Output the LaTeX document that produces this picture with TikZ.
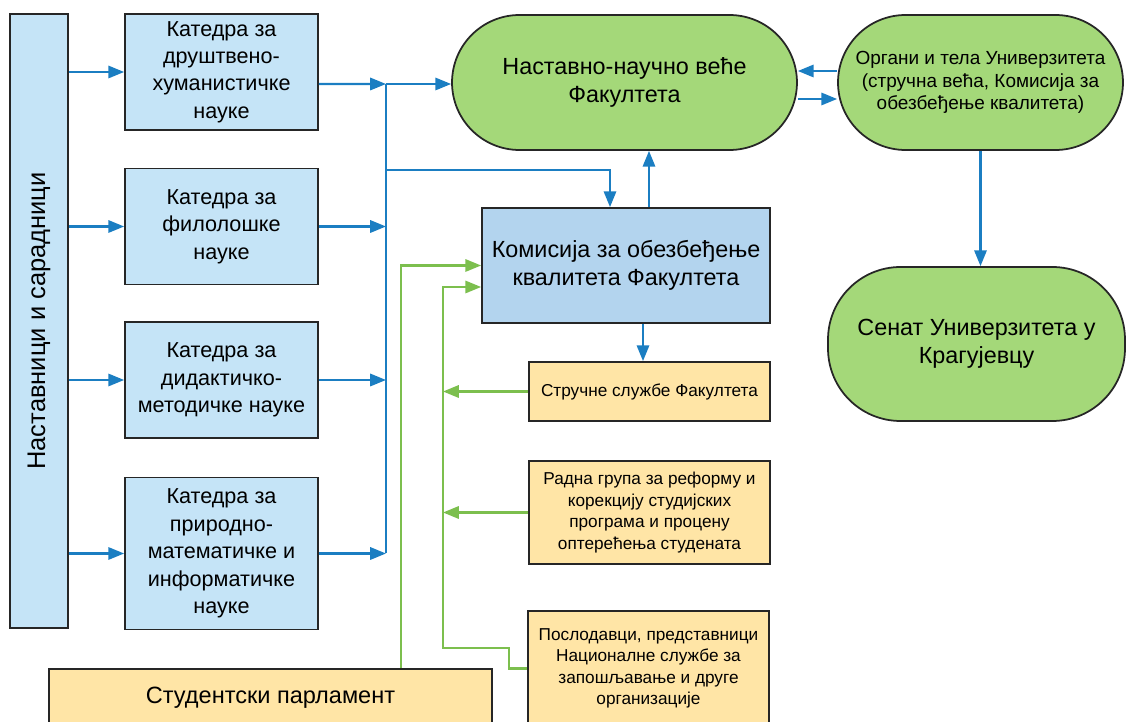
\documentclass[tikz,border=0pt]{standalone}
\usepackage{fontspec}
\setmainfont{Liberation Sans}
\usepackage{xcolor}
\usetikzlibrary{arrows.meta,positioning}

\definecolor{katblue}{HTML}{C5E4F7}
\definecolor{komblue}{HTML}{B3D4EE}
\definecolor{vecegreen}{HTML}{A4D879}
\definecolor{sluzbayellow}{HTML}{FFE5A6}
\definecolor{linkblue}{HTML}{1B7EC2}
\definecolor{linkgreen}{HTML}{7CBF4E}

\begin{document}
\begin{tikzpicture}[
        x=0.02cm, y=-0.02cm,
        box/.style = {draw=black!85, line width=1pt, align=center, inner sep=2pt},
        katbox/.style = {box, fill=katblue, minimum width=3.86cm, minimum height=2.32cm,
            font=\fontsize{12.3}{15.6}\selectfont},
        pill/.style = {box, fill=vecegreen, rounded corners=1.35cm},
        yelbox/.style = {box, fill=sluzbayellow, minimum width=4.82cm,
            font=\fontsize{9.8}{12.2}\selectfont},
        bline/.style = {draw=linkblue, line width=1.3pt},
        barrow/.style = {bline, -{Triangle[length=9pt,width=7pt]}},
        garrow/.style = {draw=linkgreen, line width=1.3pt, -{Triangle[length=9pt,width=7pt]}}]
        \useasboundingbox (0,0) rectangle (1127,722);
        % NODES
        % teachers bar
        \node[box, fill=katblue, minimum width=1.16cm, minimum height=12.28cm,
            font=\fontsize{14.5}{17}\selectfont] (bar) at (39,321) {\rotatebox{90}{Наставници и сарадници}};
        % departments
        \node[katbox] (kdh) at (221.5,72) {Катедра за\\друштвено-\\хуманистичке\\науке};
        \node[katbox] (kfil) at (221.5,226.5) {Катедра за\\филолошке\\науке};
        \node[katbox] (kdid) at (221.5,380) {Катедра за\\дидактичко-\\методичке науке};
        \node[katbox, minimum height=3.04cm] (kpmi) at (221.5,553.5) {Катедра за\\природно-\\математичке и\\информатичке\\науке};
        % council
        \node[pill, minimum width=6.9cm, minimum height=2.7cm,
            font=\fontsize{13.3}{16}\selectfont] (nnv) at (624.5,82.5) {Наставно-научно веће\\Факултета};
        % university bodies
        \node[pill, minimum width=5.7cm, minimum height=2.7cm,
            font=\fontsize{10.8}{13}\selectfont] (org) at (980.5,82.5) {Органи и тела Универзитета\\(стручна већа, Комисија за\\обезбеђење квалитета)};
        % senate
        \node[pill, rounded corners=1.45cm, minimum width=5.94cm, minimum height=3.08cm,
            font=\fontsize{13.3}{16}\selectfont] (sen) at (976.5,344) {Сенат Универзитета у\\Крагујевцу};
        % quality commission
        \node[box, fill=komblue, minimum width=5.76cm, minimum height=2.3cm,
            font=\fontsize{13.3}{16}\selectfont] (kom) at (626,265.5) {Комисија за обезбеђење\\квалитета Факултета};
        % services and groups
        \node[yelbox, minimum height=1.18cm] (sl) at (649.5,391.5) {Стручне службе Факултета};
        \node[yelbox, minimum height=2.06cm] (rg) at (649.5,512.5) {Радна група за реформу и\\корекцију студијских\\програма и процену\\оптерећења студената};
        \node[yelbox, minimum height=2.3cm] (psl) at (648.5,668.5) {Послодавци, представници\\Националне службе за\\запошљавање и друге\\организације};
        % student parliament
        \node[box, fill=sluzbayellow, minimum width=8.86cm, minimum height=1.14cm,
            font=\fontsize{13.4}{16}\selectfont] (sp) at (270.5,697.5) {Студентски парламент};
        % junctions
        \coordinate (bus1) at (386,84);
        \coordinate (bus2) at (386,170);
        \coordinate (bus4) at (386,553);
        \coordinate (gx) at (443,648);

        % ARROWS
        \foreach \k in {kdh,kfil,kdid,kpmi}
            \draw[barrow] (\k.west -| bar.east) -- (\k.west);
        \draw[barrow] ([yshift=-0.24cm]kdh.east) -- (bus1);
        \foreach \k in {kfil,kdid,kpmi}
            \draw[barrow] (\k.east) -- (\k.east -| bus1);
        \draw[bline] (bus1) -- (bus4);
        \draw[barrow] (bus1) -- (bus1 -| nnv.west);
        \draw[barrow] (bus2) -| ([xshift=-0.32cm]kom.north);
        \draw[barrow] ([xshift=0.46cm]kom.north) -- ([xshift=0.46cm]kom.north |- nnv.south);
        \draw[barrow] ([xshift=0.34cm]kom.south) -- ([xshift=0.34cm]kom.south |- sl.north);
        \draw[barrow] ([yshift=0.23cm]org.west) -- ([yshift=0.23cm]org.west -| nnv.east);
        \draw[barrow] ([yshift=-0.33cm]nnv.east) -- ([yshift=-0.33cm]nnv.east -| org.west);
        \draw[barrow] (org.south) -- (org.south |- sen.north);
        % green links
        \draw[garrow] ([xshift=2.61cm]sp.north) |- (kom.west);
        \draw[garrow] (psl.west) -- ++(-18,0) |- (gx) |- ([yshift=-0.43cm]kom.west);
        \draw[garrow] (sl.west) -- (sl.west -| gx);
        \draw[garrow] (rg.west) -- (rg.west -| gx);
    \end{tikzpicture}
\end{document}
